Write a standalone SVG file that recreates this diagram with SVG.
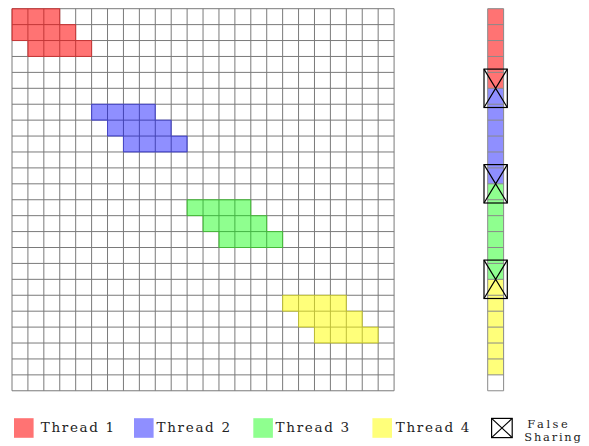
<svg xmlns="http://www.w3.org/2000/svg" width="589" height="446" viewBox="0 0 589 446">
<style>
.ns{vector-effect:non-scaling-stroke}
.grid{fill:none;stroke:#7a7a7a;stroke-width:1}
.col{fill:none;stroke:#8a8a8a;stroke-width:1}
.t1{fill:#ff0000;fill-opacity:0.55;stroke:#d03030;stroke-opacity:0.8;stroke-width:1}
.t2{fill:#0000ff;fill-opacity:0.44;stroke:#4040d0;stroke-opacity:0.8;stroke-width:1}
.t3{fill:#00ff00;fill-opacity:0.44;stroke:#40c030;stroke-opacity:0.8;stroke-width:1}
.t4{fill:#ffff00;fill-opacity:0.52;stroke:#d0d020;stroke-opacity:0.6;stroke-width:1}
.c1{fill:#ff0000;fill-opacity:0.55}
.c2{fill:#0000ff;fill-opacity:0.44}
.c3{fill:#00ff00;fill-opacity:0.44}
.c4{fill:#ffff00;fill-opacity:0.52}
.fs{fill:none;stroke:#000;stroke-width:1.2}
.lbl{font-family:"DejaVu Serif","Liberation Serif",serif;font-size:13.5px;fill:#222}
.lbls{font-family:"DejaVu Serif","Liberation Serif",serif;font-size:11.4px;fill:#222}
</style>
<rect width="589" height="446" fill="#fff"/>

<g id="matrix" transform="translate(12,8.7) scale(15.92)">
  <path class="grid ns" d="M0 0V24M1 0V24M2 0V24M3 0V24M4 0V24M5 0V24M6 0V24M7 0V24M8 0V24M9 0V24M10 0V24M11 0V24M12 0V24M13 0V24M14 0V24M15 0V24M16 0V24M17 0V24M18 0V24M19 0V24M20 0V24M21 0V24M22 0V24M23 0V24M24 0V24M0 0H24M0 1H24M0 2H24M0 3H24M0 4H24M0 5H24M0 6H24M0 7H24M0 8H24M0 9H24M0 10H24M0 11H24M0 12H24M0 13H24M0 14H24M0 15H24M0 16H24M0 17H24M0 18H24M0 19H24M0 20H24M0 21H24M0 22H24M0 23H24M0 24H24"/>
  <g id="thread1-block"><polygon class="t1 ns" points="0,0 3,0 3,1 4,1 4,2 5,2 5,3 1,3 1,2 0,2"/></g>
  <g id="thread2-block"><polygon class="t2 ns" points="5,6 9,6 9,7 10,7 10,8 11,8 11,9 7,9 7,8 6,8 6,7 5,7"/></g>
  <g id="thread3-block"><polygon class="t3 ns" points="11,12 15,12 15,13 16,13 16,14 17,14 17,15 13,15 13,14 12,14 12,13 11,13"/></g>
  <g id="thread4-block"><polygon class="t4 ns" points="17,18 21,18 21,19 22,19 22,20 23,20 23,21 19,21 19,20 18,20 18,19 17,19"/></g>
</g>

<g id="array" transform="translate(487.7,8.7) scale(15.92)">
  <rect class="c1" x="0" y="0" width="1" height="5"/>
  <rect class="c2" x="0" y="5" width="1" height="6"/>
  <rect class="c3" x="0" y="11" width="1" height="6"/>
  <rect class="c4" x="0" y="17" width="1" height="6"/>
  <path class="col ns" d="M0 0V24M1 0V24M0 0H1M0 1H1M0 2H1M0 3H1M0 4H1M0 5H1M0 6H1M0 7H1M0 8H1M0 9H1M0 10H1M0 11H1M0 12H1M0 13H1M0 14H1M0 15H1M0 16H1M0 17H1M0 18H1M0 19H1M0 20H1M0 21H1M0 22H1M0 23H1M0 24H1"/>
</g>

<g id="false-sharing-1">
  <rect class="fs" x="484" y="69.1" width="23.3" height="38.4"/>
  <path class="fs" d="M484 69.1L507.3 107.5M507.3 69.1L484 107.5"/>
</g>
<g id="false-sharing-2">
  <rect class="fs" x="484" y="164.6" width="23.3" height="38.4"/>
  <path class="fs" d="M484 164.6L507.3 203M507.3 164.6L484 203"/>
</g>
<g id="false-sharing-3">
  <rect class="fs" x="484" y="260.1" width="23.3" height="38.4"/>
  <path class="fs" d="M484 260.1L507.3 298.5M507.3 260.1L484 298.5"/>
</g>

<g id="legend">
  <g id="legend-thread1">
    <rect class="c1" x="14" y="418.2" width="19.6" height="19.6"/>
    <text class="lbl" x="40.7" y="431.5" textLength="73.5" lengthAdjust="spacing">Thread 1</text>
  </g>
  <g id="legend-thread2">
    <rect class="c2" x="134" y="418.2" width="19.6" height="19.6"/>
    <text class="lbl" x="156.5" y="431.5" textLength="73.5" lengthAdjust="spacing">Thread 2</text>
  </g>
  <g id="legend-thread3">
    <rect class="c3" x="253.3" y="418.2" width="19.6" height="19.6"/>
    <text class="lbl" x="275.6" y="431.5" textLength="73.5" lengthAdjust="spacing">Thread 3</text>
  </g>
  <g id="legend-thread4">
    <rect class="c4" x="372.4" y="418.2" width="19.6" height="19.6"/>
    <text class="lbl" x="395.8" y="431.5" textLength="73.5" lengthAdjust="spacing">Thread 4</text>
  </g>
  <g id="legend-false-sharing">
    <rect class="fs" x="491.6" y="418.4" width="20.6" height="19.2"/>
    <path class="fs" d="M491.6 418.4L512.2 437.6M512.2 418.4L491.6 437.6"/>
    <text class="lbls" x="527.3" y="427.8" textLength="40.5" lengthAdjust="spacing">False</text>
    <text class="lbls" x="524.3" y="441.2" textLength="56.5" lengthAdjust="spacing">Sharing</text>
  </g>
</g>
</svg>
